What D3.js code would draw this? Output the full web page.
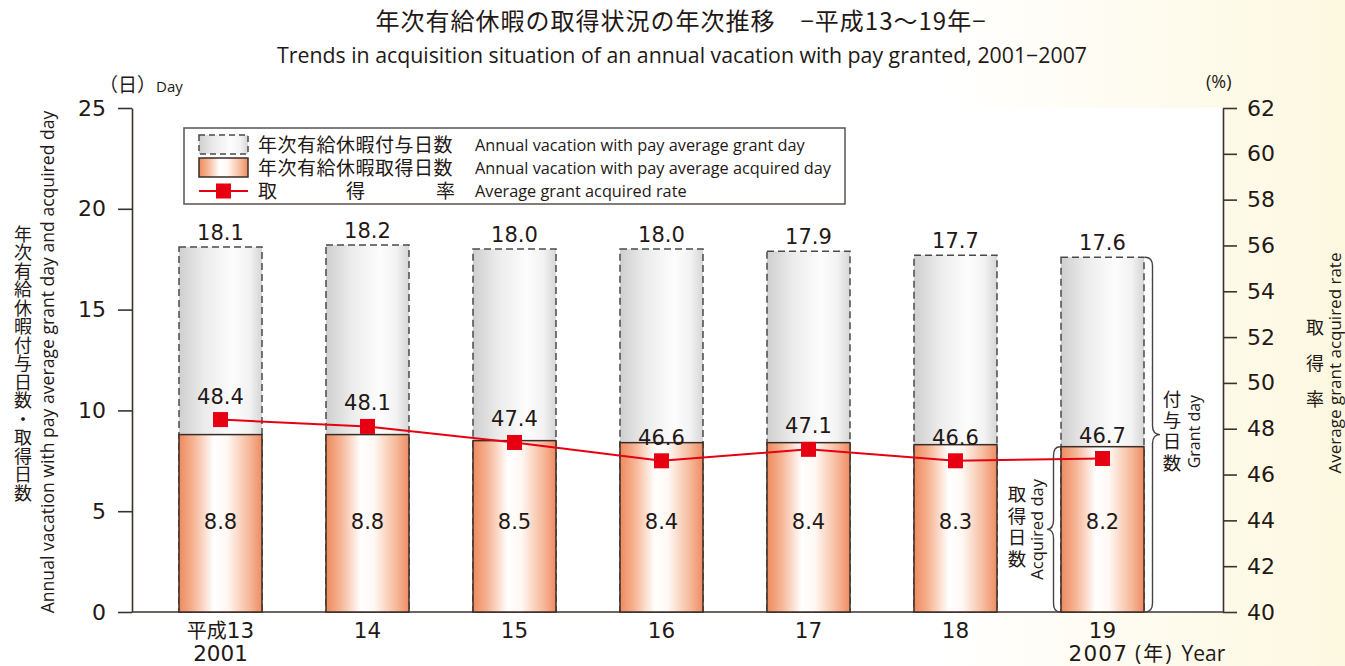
<!DOCTYPE html>
<html><head><meta charset="utf-8">
<script src="https://cdn.jsdelivr.net/npm/d3@7"></script>
<style>body{margin:0;background:#fff}svg{display:block}</style>
</head><body>
<script>
const categories = ["平成13","14","15","16","17","18","19"];
const westernYears = ["2001","","","","","","2007"];
const grantDays = [18.1,18.2,18.0,18.0,17.9,17.7,17.6];
const acquiredDays = [8.8,8.8,8.5,8.4,8.4,8.3,8.2];
const acquiredRate = [48.4,48.1,47.4,46.6,47.1,46.6,46.7];
const leftTicks = [0,5,10,15,20,25];
const rightTicks = [40,42,44,46,48,50,52,54,56,58,60,62];

const W = 1345, H = 666;
const P = {left:132, right:1223, top:108, bottom:612};
const JP = "'Noto Sans CJK JP', sans-serif";
const EN = "'Open Sans', Roboto, sans-serif";
const NUM = "'DejaVu Sans', sans-serif";
const INK = "#231815";
const AX = "#3b3330";

const svg = d3.select("body").append("svg").attr("width", W).attr("height", H);
const defs = svg.append("defs");

const bg = defs.append("linearGradient").attr("id","bgGrad").attr("x1","0").attr("x2","1").attr("y1","0").attr("y2","0");
bg.append("stop").attr("offset","0").attr("stop-color","#ffffff");
bg.append("stop").attr("offset","0.70").attr("stop-color","#ffffff");
bg.append("stop").attr("offset","1").attr("stop-color","#fdf8e0");

const og = defs.append("linearGradient").attr("id","orangeGrad").attr("x1","0").attr("x2","1").attr("y1","0").attr("y2","0");
[[0,"#ee8a5e"],[0.18,"#f6b595"],[0.42,"#ffffff"],[0.58,"#fff8f4"],[0.85,"#f6b899"],[1,"#ee8c62"]]
  .forEach(([o,c]) => og.append("stop").attr("offset",o).attr("stop-color",c));

const gg = defs.append("linearGradient").attr("id","grayGrad").attr("x1","0").attr("x2","1").attr("y1","0").attr("y2","0");
[[0,"#cfcfcf"],[0.3,"#ebebeb"],[0.65,"#fdfdfd"],[0.85,"#f2f2f2"],[1,"#d6d6d6"]]
  .forEach(([o,c]) => gg.append("stop").attr("offset",o).attr("stop-color",c));

// background
svg.append("rect").attr("width",W).attr("height",H).attr("fill","url(#bgGrad)");
svg.append("rect").attr("x",P.left).attr("y",P.top).attr("width",P.right-P.left).attr("height",P.bottom-P.top).attr("fill","#fff");

// scales
const x = d3.scaleBand().domain(categories).range([147,1176]).paddingInner(0.4354).paddingOuter(0.2177);
const y = d3.scaleLinear().domain([0,25]).range([P.bottom,P.top]);
const yR = d3.scaleLinear().domain([40,62]).range([P.bottom,P.top]);
const bw = x.bandwidth();

// titles
svg.append("text").attr("x",681).attr("y",30).attr("text-anchor","middle")
  .attr("font-family",JP).attr("font-size",24).attr("letter-spacing",1).attr("fill",INK)
  .text("年次有給休暇の取得状況の年次推移　−平成13〜19年−");
svg.append("text").attr("x",682).attr("y",63).attr("text-anchor","middle")
  .attr("font-family",EN).attr("font-size",21.3).attr("fill",INK)
  .text("Trends in acquisition situation of an annual vacation with pay granted, 2001−2007");

// unit labels
const u = svg.append("text").attr("x",99).attr("y",92).attr("fill",INK);
u.append("tspan").attr("font-family",JP).attr("font-size",19).text("（日）");
u.append("tspan").attr("font-family",EN).attr("font-size",15).text("Day");
svg.append("text").attr("x",1206).attr("y",88).attr("font-family",EN).attr("font-size",18).attr("fill",INK).text("(%)");

// axes
const la = svg.append("g").attr("transform",`translate(${P.left},0)`)
  .call(d3.axisLeft(y).tickValues(leftTicks).tickSize(14).tickSizeOuter(0).tickPadding(12).tickFormat(d3.format("d")));
const ra = svg.append("g").attr("transform",`translate(${P.right},0)`)
  .call(d3.axisRight(yR).tickValues(rightTicks).tickSize(14).tickSizeOuter(0).tickPadding(10).tickFormat(d3.format("d")));
[la,ra].forEach(g => {
  g.selectAll("path,line").attr("stroke",AX).attr("stroke-width",1.6);
  g.selectAll("text").attr("font-family",NUM).attr("font-size",22).attr("fill",INK);
});

// baseline
svg.append("line").attr("x1",P.left).attr("x2",P.right).attr("y1",y(0)).attr("y2",y(0))
  .attr("stroke",AX).attr("stroke-width",1.6);

// x labels
const xa = svg.append("g").attr("transform",`translate(0,${y(0)})`)
  .call(d3.axisBottom(x).tickSize(0).tickPadding(0).tickFormat(""));
xa.select(".domain").remove();
categories.forEach((c,i) => {
  const cx = x(c) + bw/2;
  const t = svg.append("text").attr("x",cx).attr("y",638).attr("text-anchor","middle").attr("fill",INK).attr("font-size",21.5);
  if (c.startsWith("平成")) {
    t.append("tspan").attr("font-family",JP).attr("font-size",20).text("平成");
    t.append("tspan").attr("font-family",NUM).text(c.slice(2));
  } else {
    t.attr("font-family",NUM).text(c);
  }
  if (i === 0) {
    svg.append("text").attr("x",cx).attr("y",661).attr("text-anchor","middle").attr("fill",INK)
      .attr("font-family",NUM).attr("font-size",21.5).text(westernYears[i]);
  } else if (westernYears[i]) {
    const t2 = svg.append("text").attr("x",cx-34).attr("y",661).attr("fill",INK);
    t2.append("tspan").attr("font-family",NUM).attr("font-size",21.5).attr("letter-spacing",1.2).text(westernYears[i]);
    t2.append("tspan").attr("font-family",EN).attr("font-size",21).attr("dx",7).text("(");
    t2.append("tspan").attr("font-family",JP).attr("font-size",20).attr("dx",2).text("年");
    t2.append("tspan").attr("font-family",EN).attr("font-size",21).attr("dx",2).text(")");
    t2.append("tspan").attr("font-family",EN).attr("font-size",21).attr("dx",10).text("Year");
  }
});

// bars
const bars = svg.append("g");
bars.selectAll("rect.grant").data(categories).join("rect").attr("class","grant")
  .attr("x",d => x(d)).attr("width",bw)
  .attr("y",(d,i) => y(grantDays[i])).attr("height",(d,i) => y(0)-y(grantDays[i]))
  .attr("fill","url(#grayGrad)").attr("stroke","#4a4a4a").attr("stroke-width",1.5).attr("stroke-dasharray","7,4");
bars.selectAll("rect.acq").data(categories).join("rect").attr("class","acq")
  .attr("x",d => x(d)).attr("width",bw)
  .attr("y",(d,i) => y(acquiredDays[i])).attr("height",(d,i) => y(0)-y(acquiredDays[i]))
  .attr("fill","url(#orangeGrad)").attr("stroke","#3a2c26").attr("stroke-width",1.5);

// value labels
const lab = svg.append("g").attr("font-family",NUM).attr("font-size",21).attr("fill",INK).attr("text-anchor","middle");
categories.forEach((c,i) => {
  const cx = x(c)+bw/2;
  lab.append("text").attr("x",cx).attr("y",y(grantDays[i])-7).text(grantDays[i].toFixed(1));
  lab.append("text").attr("x",cx).attr("y",y(4.5)+8).text(acquiredDays[i].toFixed(1));
  lab.append("text").attr("x",cx).attr("y",yR(acquiredRate[i])-16).text(acquiredRate[i].toFixed(1));
});

// rate line
const line = d3.line().x((d,i) => x(categories[i])+bw/2).y(d => yR(d));
svg.append("path").datum(acquiredRate).attr("d",line).attr("fill","none").attr("stroke","#e60012").attr("stroke-width",2);
svg.append("g").selectAll("rect").data(acquiredRate).join("rect")
  .attr("x",(d,i) => x(categories[i])+bw/2-7.5).attr("y",d => yR(d)-7.5)
  .attr("width",15).attr("height",15).attr("fill","#e60012");

// braces
function brace(x0, y1, y2, w) {
  const mid = (y1+y2)/2, h = w/2, r = 9;
  const xm = x0 + h;
  return `M${x0},${y1} Q${xm},${y1} ${xm},${y1+r} L${xm},${mid-r} Q${xm},${mid} ${x0+w},${mid}` +
         ` Q${xm},${mid} ${xm},${mid+r} L${xm},${y2-r} Q${xm},${y2} ${x0},${y2}`;
}
const last = categories[categories.length-1];
const li = categories.length-1;
const bx = x(last);
svg.append("path").attr("d",brace(bx+bw+1, y(grantDays[li]), y(0), 15))
  .attr("fill","none").attr("stroke","#4a4040").attr("stroke-width",1.4);
svg.append("path").attr("d",brace(bx-1, y(acquiredDays[li]), y(0), -13))
  .attr("fill","none").attr("stroke","#4a4040").attr("stroke-width",1.4);

// vertical (tategaki) text: first glyph centred at c0, glyph pitch = step
function vstack(chars, cx, c0, step, size) {
  svg.append("text").attr("x",cx).attr("y",c0 - size/2)
    .style("writing-mode","vertical-rl").attr("text-anchor","start")
    .attr("letter-spacing", step - size)
    .attr("font-family",JP).attr("font-size",size).attr("fill",INK).text(chars);
}
function vrot(txt, cx, cy, size) {
  svg.append("text").attr("transform",`translate(${cx},${cy}) rotate(-90)`).attr("text-anchor","middle")
    .attr("dominant-baseline","central").attr("font-family",EN).attr("font-size",size).attr("fill",INK).text(txt);
}
const gMid = (y(grantDays[li])+y(0))/2;
const aMid = (y(acquiredDays[li])+y(0))/2;
vstack("付与日数", 1172, gMid-36, 21.3, 18.5);
vrot("Grant day", 1194, gMid-3, 16);
vstack("取得日数", 1017, aMid-35.5, 21.7, 18.5);
vrot("Acquired day", 1036, aMid, 16.5);

// axis titles
vstack("年次有給休暇付与日数・取得日数", 23, 234, 18.5, 18);
vrot("Annual vacation with pay average grant day and acquired day", 47, 362, 17.6);
vstack("取得率", 1315, 327, 36, 18);
vrot("Average grant acquired rate", 1334, 363, 17);

// legend
const lg = svg.append("g");
lg.append("rect").attr("x",184).attr("y",128).attr("width",661).attr("height",76)
  .attr("fill","#fff").attr("stroke","#5a5250").attr("stroke-width",1.5);
lg.append("rect").attr("x",199).attr("y",135).attr("width",49).attr("height",19)
  .attr("fill","url(#grayGrad)").attr("stroke","#4a4a4a").attr("stroke-width",1.5).attr("stroke-dasharray","6,4");
lg.append("rect").attr("x",199).attr("y",158).attr("width",49).attr("height",19)
  .attr("fill","url(#orangeGrad)").attr("stroke","#3a2c26").attr("stroke-width",1.5);
lg.append("line").attr("x1",199).attr("x2",248).attr("y1",191).attr("y2",191).attr("stroke","#e60012").attr("stroke-width",2);
lg.append("rect").attr("x",216).attr("y",183.5).attr("width",15).attr("height",15).attr("fill","#e60012");
const jpL = ["年次有給休暇付与日数","年次有給休暇取得日数"];
const enL = ["Annual vacation with pay average grant day","Annual vacation with pay average acquired day","Average grant acquired rate"];
jpL.forEach((t,k) => lg.append("text").attr("x",258).attr("y",152+k*23).attr("font-family",JP).attr("font-size",19).attr("letter-spacing",0.5).attr("fill",INK).text(t));
[["取",258],["得",346],["率",436]].forEach(([t,xx]) =>
  lg.append("text").attr("x",xx).attr("y",198).attr("font-family",JP).attr("font-size",19).attr("fill",INK).text(t));
enL.forEach((t,k) => lg.append("text").attr("x",475).attr("y",151+k*23).attr("font-family",EN).attr("font-size",16.3).attr("fill",INK).text(t));
</script>
</body></html>
